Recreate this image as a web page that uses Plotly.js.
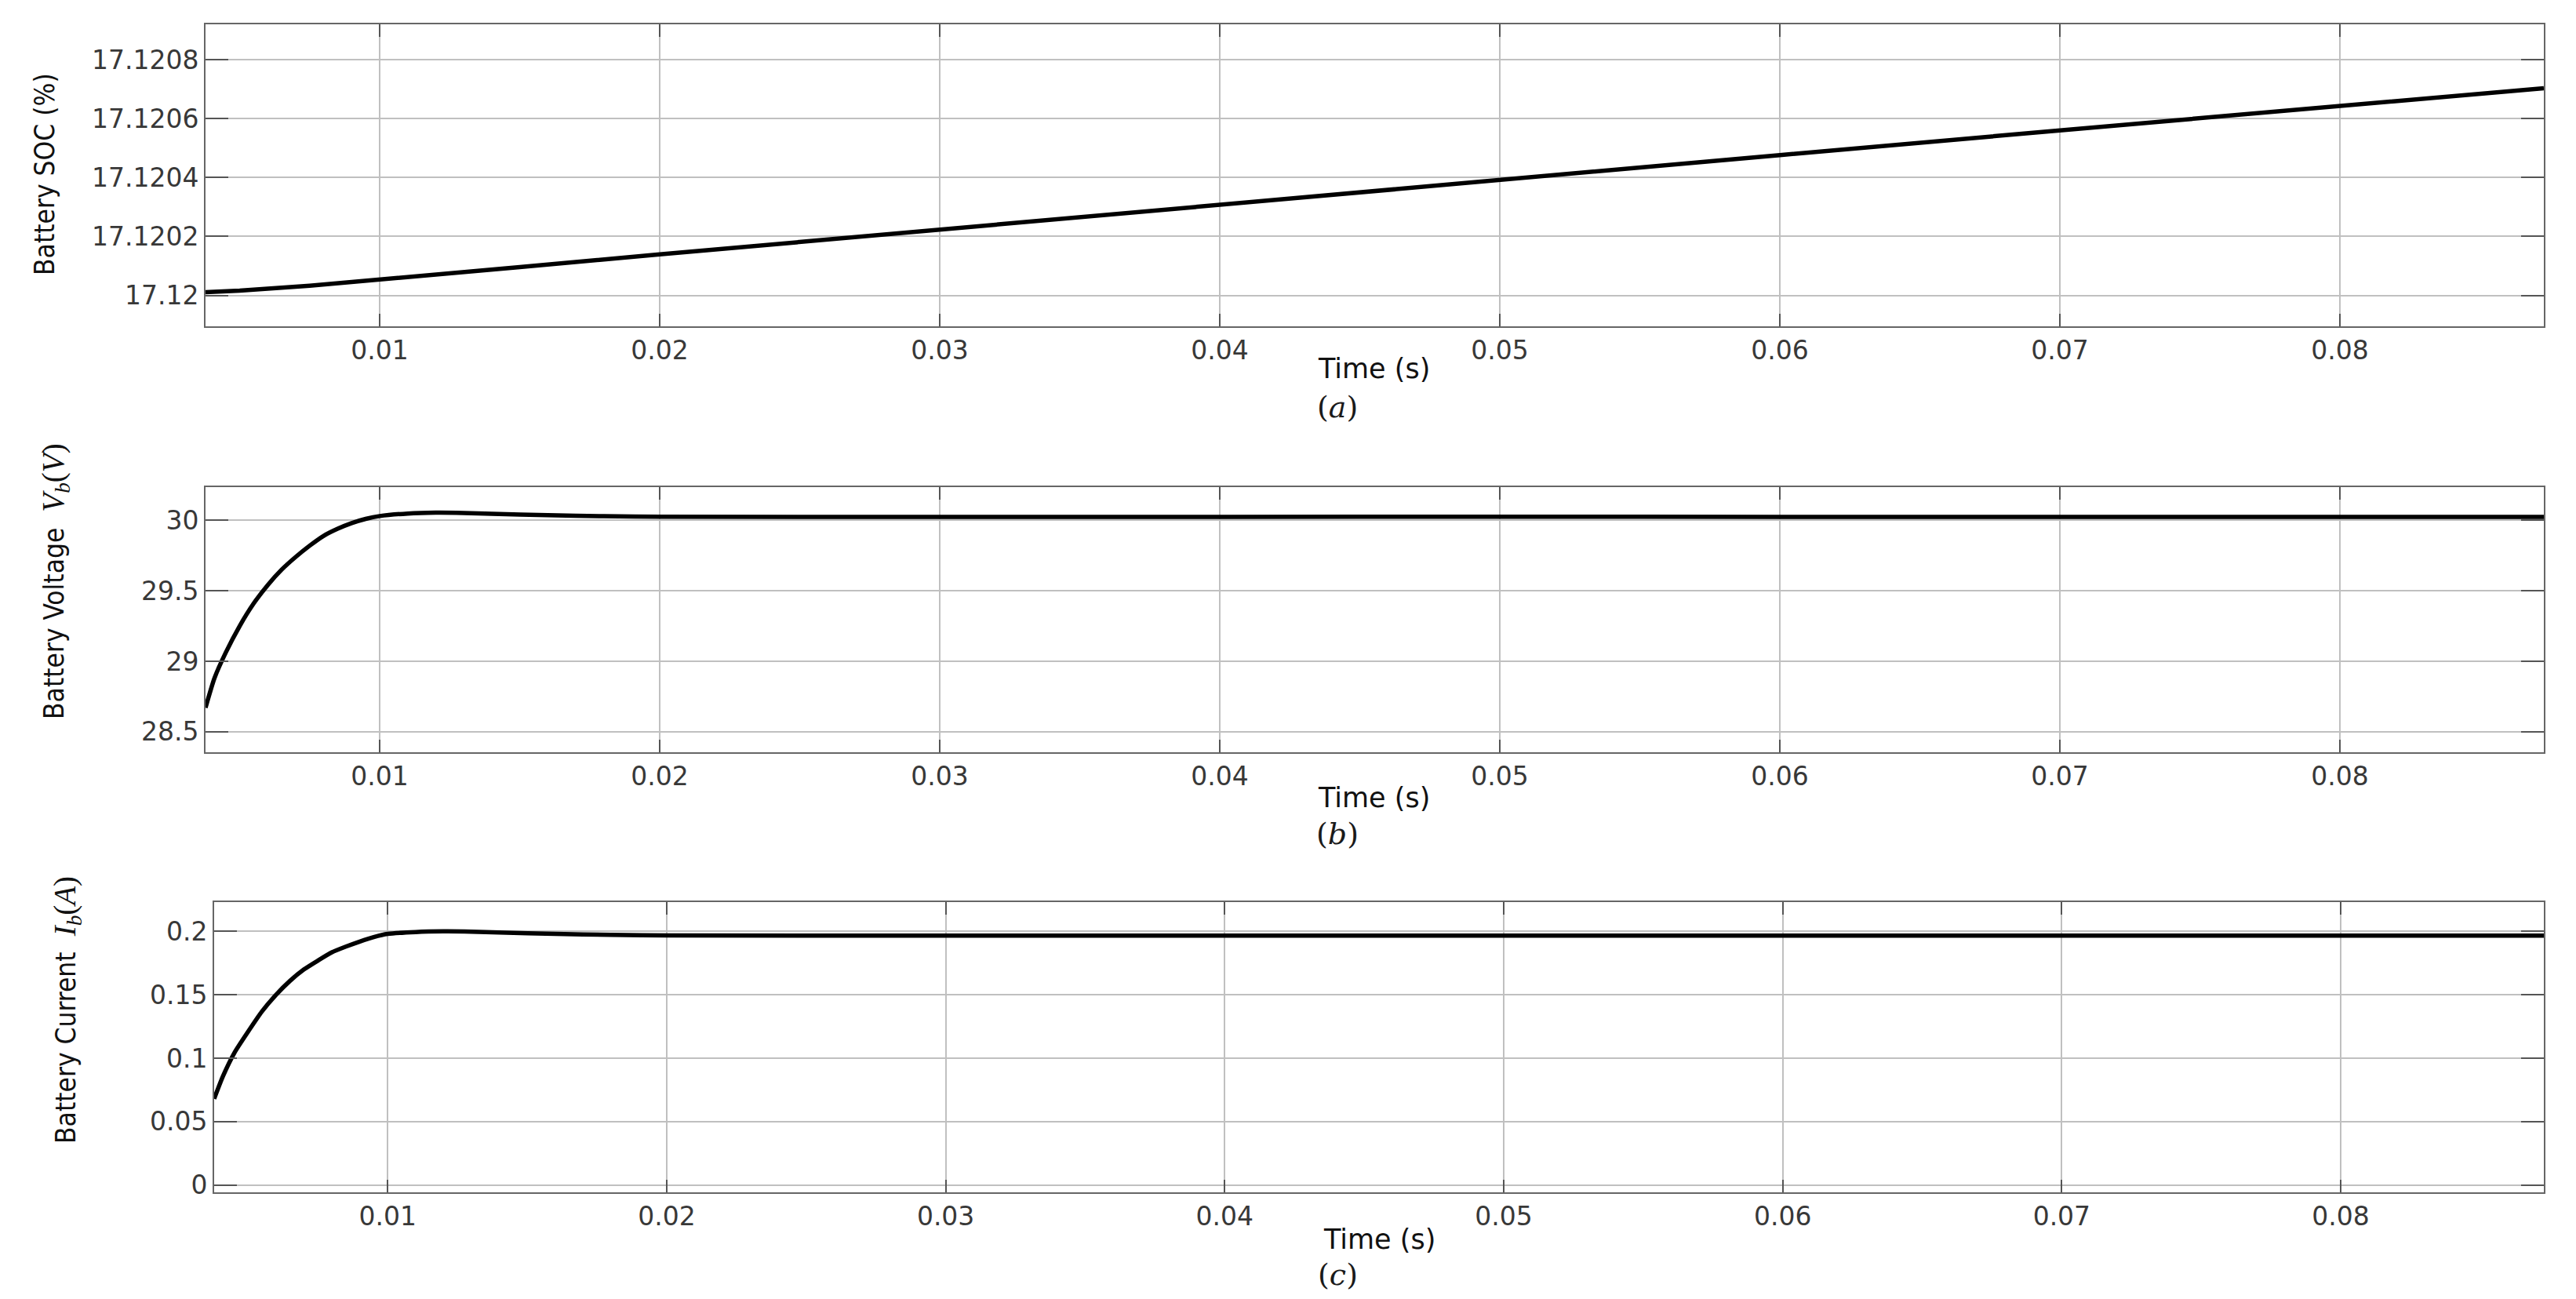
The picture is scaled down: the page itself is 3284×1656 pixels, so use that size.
<!DOCTYPE html>
<html>
<head>
<meta charset="utf-8">
<script src="https://cdn.plot.ly/plotly-3.0.1.min.js"></script>
<style>html,body{margin:0;padding:0;background:#fff;}</style>
</head>
<body>
<div id="chart" style="width:3284px;height:1656px;"></div>
<script>
// ---- Data ----
const socTime = [0.00378, 0.005, 0.0075, 0.01, 0.0125, 0.015, 0.02, 0.03, 0.04, 0.05, 0.06, 0.07, 0.08, 0.08728];
const socValues = [17.120011, 17.120016, 17.120033, 17.120053, 17.120075, 17.120096, 17.120139, 17.120224, 17.120306, 17.120392, 17.120476, 17.120560, 17.120643, 17.120703];

const voltTime = [0.00378, 0.0041, 0.0045, 0.005, 0.0055, 0.006, 0.0065, 0.007, 0.0075, 0.008, 0.0085, 0.009, 0.0095, 0.01, 0.011, 0.012, 0.013, 0.014, 0.016, 0.018, 0.02, 0.03, 0.04, 0.05, 0.06, 0.07, 0.08, 0.08728];
const voltValues = [28.67, 28.88, 29.06, 29.25, 29.41, 29.54, 29.65, 29.74, 29.82, 29.89, 29.94, 29.98, 30.01, 30.03, 30.048, 30.054, 30.052, 30.046, 30.036, 30.029, 30.025, 30.024, 30.024, 30.025, 30.024, 30.024, 30.024, 30.024];

const currTime = [0.00378, 0.0041, 0.0045, 0.005, 0.0055, 0.006, 0.0065, 0.007, 0.0075, 0.008, 0.0085, 0.009, 0.0095, 0.01, 0.011, 0.012, 0.013, 0.014, 0.016, 0.018, 0.02, 0.03, 0.04, 0.05, 0.06, 0.07, 0.08, 0.08728];
const currValues = [0.068, 0.086, 0.104, 0.121, 0.137, 0.150, 0.161, 0.170, 0.177, 0.1835, 0.188, 0.192, 0.1955, 0.198, 0.1995, 0.2, 0.1998, 0.1992, 0.198, 0.1972, 0.1968, 0.1967, 0.1967, 0.1967, 0.1967, 0.1967, 0.1967, 0.1967];

const socTickVals = [17.12, 17.1202, 17.1204, 17.1206, 17.1208];
const socTickText = ['17.12', '17.1202', '17.1204', '17.1206', '17.1208'];

const xLabel = 'Time (s)';
const panelLabels = ['(<i>a</i>)', '(<i>b</i>)', '(<i>c</i>)'];
const yLabels = [
  'Battery SOC (%)',
  'Battery Voltage  <span style="font-family:\'Liberation Serif\',\'DejaVu Serif\',serif;font-size:39px"><i>V</i><sub><i>b</i></sub>(<i>V</i>)</span>',
  'Battery Current  <span style="font-family:\'Liberation Serif\',\'DejaVu Serif\',serif;font-size:39px"><i>I</i><sub><i>b</i></sub>(<i>A</i>)</span>'
];

// ---- Layout helpers ----
const W = 3284, H = 1656;
const px = v => v / W;
const py = v => 1 - v / H;

const tickFont = {family: 'DejaVu Sans, Liberation Sans, Arial, sans-serif', size: 33, color: '#383838'};
const narrowFont = {family: 'Liberation Sans Narrow, DejaVu Sans Condensed, Roboto Condensed, Liberation Sans, sans-serif', size: 35, color: '#111'};

function xAxis(domain, anchor, range) {
  return {
    domain: domain, anchor: anchor, range: range,
    tick0: 0, dtick: 0.01,
    ticks: 'inside', ticklen: 16, tickwidth: 2, tickcolor: '#555',
    mirror: 'ticks', showline: true, linecolor: '#666', linewidth: 2,
    showgrid: true, gridcolor: '#c0c0c0', gridwidth: 2, zeroline: false,
    tickfont: tickFont
  };
}
function yAxis(domain, anchor, range, extra) {
  return Object.assign({
    domain: domain, anchor: anchor, range: range,
    ticks: 'inside', ticklen: 29, tickwidth: 2, tickcolor: '#555',
    mirror: 'ticks', showline: true, linecolor: '#666', linewidth: 2,
    showgrid: true, gridcolor: '#c0c0c0', gridwidth: 2, zeroline: false,
    tickfont: tickFont
  }, extra || {});
}

const xRange = [0.00378, 0.08728];
const lineStyle = {color: '#000', width: 5.5};

const traces = [
  {x: socTime, y: socValues, xaxis: 'x', yaxis: 'y', mode: 'lines', line: lineStyle},
  {x: voltTime, y: voltValues, xaxis: 'x2', yaxis: 'y2', mode: 'lines', line: Object.assign({shape: 'spline', smoothing: 0.6}, lineStyle)},
  {x: currTime, y: currValues, xaxis: 'x3', yaxis: 'y3', mode: 'lines', line: Object.assign({shape: 'spline', smoothing: 0.6}, lineStyle)}
];

const annotations = [];
const timeY = [470, 1017, 1580];
const panY = [519, 1063, 1625];
const centersX = [1752, 1752, 1758];
for (let i = 0; i < 3; i++) {
  annotations.push({xref: 'paper', yref: 'paper', x: px(centersX[i]), y: py(timeY[i]), text: xLabel, showarrow: false,
    xanchor: 'center', yanchor: 'middle', font: {family: 'DejaVu Sans, Liberation Sans, sans-serif', size: 35, color: '#111'}});
  annotations.push({xref: 'paper', yref: 'paper', x: px(1705), y: py(panY[i]), text: panelLabels[i], showarrow: false,
    xanchor: 'center', yanchor: 'middle', font: {family: 'DejaVu Serif, Liberation Serif, serif', size: 38, color: '#1a1a1a'}});
}
const yTitleX = [57, 70, 85];
const yTitleY = [222, 741, 1288];
for (let i = 0; i < 3; i++) {
  annotations.push({xref: 'paper', yref: 'paper', x: px(yTitleX[i]), y: py(yTitleY[i]), text: yLabels[i], showarrow: false,
    textangle: -90, xanchor: 'center', yanchor: 'middle', font: narrowFont});
}

const layout = {
  width: W, height: H,
  margin: {l: 0, r: 0, t: 0, b: 0},
  paper_bgcolor: '#fff', plot_bgcolor: '#fff',
  showlegend: false,
  xaxis: xAxis([px(262), px(3243)], 'y', xRange),
  yaxis: yAxis([py(416), py(31)], 'x', [17.119895, 17.12092], {tickvals: socTickVals, ticktext: socTickText}),
  xaxis2: xAxis([px(262), px(3243)], 'y2', xRange),
  yaxis2: yAxis([py(959), py(620.7)], 'x2', [28.354, 30.237], {tick0: 28.5, dtick: 0.5}),
  xaxis3: xAxis([px(273), px(3243)], 'y3', xRange),
  yaxis3: yAxis([py(1520), py(1150)], 'x3', [-0.00575, 0.2231], {tick0: 0, dtick: 0.05}),
  annotations: annotations
};

Plotly.newPlot('chart', traces, layout, {staticPlot: true});
</script>
</body>
</html>
